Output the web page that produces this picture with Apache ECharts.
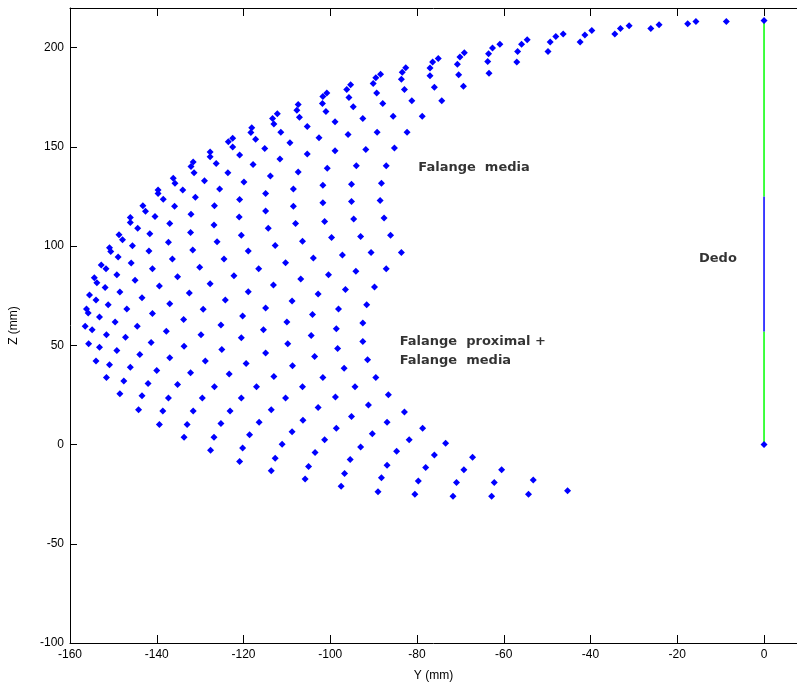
<!DOCTYPE html>
<html>
<head>
<meta charset="utf-8">
<title>Espacio de trabajo del dedo</title>
<script src="https://cdn.jsdelivr.net/npm/echarts/dist/echarts.min.js"></script>
<style>
  html, body { margin: 0; padding: 0; background: #fff; }
  #grafico { width: 797px; height: 687px; }
</style>
</head>
<body>
<div id="grafico"></div>
<script>
// puntos [Y, Z] en mm
let puntosSuperiores = [
  [-131.6,142.4],[-132.1,140.1],[-127.7,147.4],[-127.7,145.1],[-126.3,141.7],[-123.5,152.6],[-122.5,154.4],
  [-122.5,149.9],[-120.9,145.9],[-118.1,159.6],[-118.3,157.3],[-117.2,153.9],[-115.1,149.2],[-117.8,141.1],
  [-112.2,166.7],[-113.3,164.3],[-113.0,161.5],[-111.4,157.4],[-111.6,143.9],[-109.3,152.1],
  [-107.4,171.4],[-107.7,168.5],[-107.1,165.0],[-105.3,160.3],[-105.3,146.4],
  [-100.8,177.2],[-101.7,175.4],[-101.8,171.9],[-101.0,167.8],[-98.9,162.7],[-102.6,154.6],[-98.9,148.1],[-100.7,139.3],
  [-95.3,181.3],[-96.2,178.9],[-95.7,174.9],[-94.7,170.2],[-92.5,164.3],[-95.9,156.3],[-91.8,148.7],[-94.0,140.5],
  [-88.4,186.6],[-89.5,184.8],[-90.1,181.9],[-89.3,177.2],[-87.9,171.9],[-85.5,165.5],[-89.2,157.4],[-85.2,149.4],[-87.1,140.5],
  [-82.6,189.9],[-83.4,187.6],[-83.6,184.1],[-82.9,178.9],[-81.2,173.2],[-78.8,165.5],[-82.3,157.4],
  [-75.1,194.6],[-76.4,192.8],[-77.0,189.8],[-77.0,185.9],[-76.0,180.1],[-74.3,173.2],
  [-69.1,197.5],[-70.1,195.3],[-70.7,191.6],[-70.4,186.4],[-69.3,180.6],
  [-60.9,201.7],[-62.6,199.8],[-63.5,197.0],[-63.7,193.0],[-63.4,187.1],
  [-54.6,204.0],[-55.9,201.7],[-56.8,198.1],[-57.0,192.8],
  [-49.8,198.1],[-49.3,202.9],[-48.0,205.7],[-46.3,206.9],[-42.4,202.9],[-41.3,206.4],[-39.7,208.7],
  [-34.4,206.9],[-33.1,209.7],[-31.1,211.1],[-26.1,209.7],[-24.2,211.6],[-17.6,212.1],[-15.7,213.2],
  [-8.7,213.2],[0,213.7]
];

let puntosMedios = [
  [-131.4,137.0],[-123.6,137.0],[-113.8,135.3],[-136.2,134.2],[-135.8,131.7],[-129.0,133.0],[-119.9,132.3],
  [-139.7,128.3],[-139.7,126.5],[-134.0,128.3],[-125.5,128.8],[-131.1,124.6],[-120.9,123.5],[-114.9,126.5],
  [-138.5,123.6],[-143.2,120.3],[-142.6,117.6],[-135.9,120.1],[-126.7,120.3],[-140.4,114.9],[-132.1,116.1],
  [-121.0,114.7],[-114.9,117.7],[-146.1,114.4],[-146.1,111.9],[-137.0,111.4],[-126.8,110.7],[-144.4,109.0],
  [-114.3,109.0],[-141.6,106.2],[-132.2,106.9],[-120.5,105.5],[-148.7,105.7],[-147.9,103.2],[-137.3,102.0],
  [-126.1,102.2],[-112.7,100.3],[-145.6,100.2],[-150.9,99.2],[-150.6,97.3],[-141.8,97.5],[-131.7,98.0],
  [-118.9,97.5],[-148.9,94.5],[-136.4,93.5],[-124.5,93.5],[-110.3,91.6],[-145.9,91.5],[-152.8,90.5],
  [-151.7,88.6],[-141.0,88.6],[-130.1,89.3],[-116.5,88.6],[-149.2,85.6],[-135.2,84.6],[-122.2,85.1],
  [-154.4,84.1],[-153.8,81.6],[-145.0,82.8],[-127.7,81.1],[-113.1,80.4],[-151.9,79.2],[-139.4,79.9],
  [-155.5,75.4],[-148.5,76.9],[-132.5,76.4],[-118.9,77.0],[-154.0,72.9],[-143.4,74.0],[-124.2,72.9],
  [-156.2,68.3],[-155.8,66.3],[-151.2,70.5],[-137.0,71.0],[-146.9,68.3],[-129.3,68.2],[-114.9,68.8],
  [-153.2,64.3],[-141.0,66.0],[-133.8,63.0],[-120.2,64.8],[-110.0,61.8],[-149.6,61.8],[-156.5,59.6],
  [-154.9,57.8],[-144.5,59.6],[-125.2,60.3],[-115.4,57.8],[-151.6,55.4],[-147.2,54.1],[-137.8,57.1],
  [-129.8,55.4],[-120.5,53.8],
  [-107.4,137.3],[-108.5,128.8],[-101.7,130.7],[-95.1,131.2],[-88.2,131.7],[-108.5,120.1],[-101.7,121.8],
  [-95.1,122.5],[-88.5,123.0],[-108.0,111.4],[-101.3,112.4],[-94.6,113.7],[-87.6,114.2],[-106.4,102.5],
  [-99.7,104.4],[-93.0,104.9],[-86.1,105.5],[-103.9,94.0],[-97.2,95.5],[-90.6,96.8],[-83.6,96.8],
  [-106.8,83.4],[-100.4,85.6],[-94.1,87.4],[-87.1,88.6],[-108.8,72.4],[-102.8,75.9],[-96.5,78.2],
  [-89.8,79.4],[-104.1,65.5],[-98.1,68.3],[-91.6,70.5],[-104.4,54.9],[-98.6,58.3],[-92.5,61.3]
];

let puntosInferiores = [
  [-155.7,50.8],[-153.2,49.1],[-149.2,47.4],[-143.9,45.4],[-141.3,51.4],[-133.7,49.6],[-125.0,47.9],
  [-114.9,46.1],[-109.8,50.8],[-154.0,42.1],[-150.9,40.2],[-146.1,39.0],[-140.0,37.3],[-137.0,43.7],
  [-128.8,42.1],[-119.4,40.9],[-151.6,33.8],[-147.6,32.0],[-142.0,30.8],[-135.2,30.3],[-132.2,36.2],
  [-123.3,35.5],[-113.0,34.3],[-148.5,25.6],[-143.4,24.6],[-137.3,23.5],[-129.5,23.5],[-126.7,29.1],
  [-120.5,23.5],[-117.0,29.1],[-110.3,23.5],[-144.2,17.6],[-138.6,16.9],[-131.6,16.9],[-123.1,16.9],
  [-113.6,17.6],[-139.4,10.1],[-133.0,10.1],[-125.2,10.6],[-116.4,11.2],[-133.7,3.7],[-126.8,3.7],
  [-118.6,4.9],[-111.1,0.2],[-127.6,-2.9],[-120.2,-1.7],[-112.7,-6.9],[-120.9,-8.5],[-113.6,-13.2],
  [-92.5,51.9],[-98.3,48.4],[-103.6,44.4],[-91.4,42.7],[-108.7,39.7],[-96.8,38.5],[-101.7,33.8],
  [-89.5,33.8],[-106.4,29.1],[-94.3,29.1],[-98.8,24.0],[-86.6,25.1],[-102.8,18.7],[-91.2,19.9],
  [-106.3,12.2],[-95.1,14.1],[-82.9,16.4],[-108.8,6.5],[-98.6,8.2],[-86.9,11.2],[-101.3,2.4],
  [-90.3,5.4],[-78.7,8.2],[-103.5,-4.0],[-93.0,-1.2],[-81.8,2.4],[-73.4,0.7],[-105.0,-11.1],
  [-95.4,-7.5],[-84.7,-3.4],[-76.0,-5.2],[-67.2,-6.4],[-105.8,-17.4],[-96.7,-14.6],[-86.9,-10.4],
  [-78.0,-11.6],[-69.2,-12.7],[-60.5,-12.7],[-97.5,-21.0],[-88.2,-16.7],[-79.7,-18.4],[-70.9,-19.1],
  [-62.2,-19.1],[-89.0,-23.8],[-80.5,-25.0],[-71.7,-26.1],[-62.8,-26.1],[-54.3,-25.0],
  [-53.2,-17.9],[-45.3,-23.3],[0,0]
];

// dedo extendido: falange proximal (verde), media (azul), distal (verde)
let segProximal = [[0, 0], [0, 57]];
let segMedia = [[0, 57], [0, 125]];
let segDistal = [[0, 125], [0, 213.7]];

// textos de la figura
let rotulos = [
  {name: 'Falange  media', value: [-79.7, 139.7]},
  {name: 'Falange  proximal +', value: [-84.0, 51.8]},
  {name: 'Falange  media', value: [-84.0, 42.2]},
  {name: 'Dedo', value: [-15.0, 93.5]}
];

let ticksY = [-100, -50, 0, 50, 100, 150, 200];
let ticksX = [-160, -140, -120, -100, -80, -60, -40, -20, 0];

let fuenteEje = 'Liberation Sans Narrow, Liberation Sans, Arial, sans-serif';

let grafico = echarts.init(document.getElementById('grafico'));

let opcion = {
  backgroundColor: '#fff',
  animation: false,
  grid: {left: 69, top: 8, right: 0, height: 637},
  xAxis: [{
    type: 'value',
    min: -160, max: 7.6,
    name: 'Y (mm)', nameLocation: 'middle', nameGap: 27,
    nameTextStyle: {color: '#000', fontSize: 12, fontFamily: fuenteEje},
    axisLine: {show: true, onZero: false, lineStyle: {color: '#000', width: 1}},
    axisTick: {show: true, inside: true, length: 8, customValues: ticksX, lineStyle: {color: '#000'}},
    axisLabel: {color: '#000', fontSize: 12, fontFamily: fuenteEje, margin: 6, customValues: ticksX},
    splitLine: {show: false}
  }, {
    type: 'value', position: 'top',
    min: -160, max: 7.6,
    axisLine: {show: true, onZero: false, lineStyle: {color: '#000', width: 1}},
    axisTick: {show: true, inside: true, length: 8, customValues: ticksX, lineStyle: {color: '#000'}},
    axisLabel: {show: false},
    splitLine: {show: false}
  }],
  yAxis: {
    type: 'value',
    min: -100, max: 220,
    name: 'Z (mm)', nameLocation: 'middle', nameGap: 50,
    nameTextStyle: {color: '#000', fontSize: 12, fontFamily: fuenteEje},
    axisLine: {show: true, onZero: false, lineStyle: {color: '#000', width: 1}},
    axisTick: {show: true, inside: true, length: 7, customValues: ticksY, lineStyle: {color: '#000'}},
    axisLabel: {color: '#000', fontSize: 12, fontFamily: fuenteEje, margin: 6, customValues: ticksY},
    splitLine: {show: false}
  },
  series: [
    {type: 'line', data: segProximal, symbol: 'none', lineStyle: {color: '#00ff00', width: 1.5}, z: 1},
    {type: 'line', data: segMedia, symbol: 'none', lineStyle: {color: '#0000ff', width: 1.5}, z: 1},
    {type: 'line', data: segDistal, symbol: 'none', lineStyle: {color: '#00ff00', width: 1.5}, z: 1},
    {
      type: 'scatter',
      data: puntosSuperiores.concat(puntosMedios, puntosInferiores),
      symbol: 'diamond', symbolSize: 7,
      itemStyle: {color: '#0000ff', opacity: 1},
      z: 3
    },
    {
      type: 'scatter',
      data: rotulos,
      symbolSize: 0,
      label: {
        show: true, position: 'right', distance: 0,
        align: 'left', verticalAlign: 'middle',
        formatter: '{b}',
        color: '#000', fontSize: 13, fontWeight: 'bold',
        fontFamily: 'DejaVu Sans, sans-serif'
      },
      z: 4
    }
  ]
};

grafico.setOption(opcion);
</script>
</body>
</html>
